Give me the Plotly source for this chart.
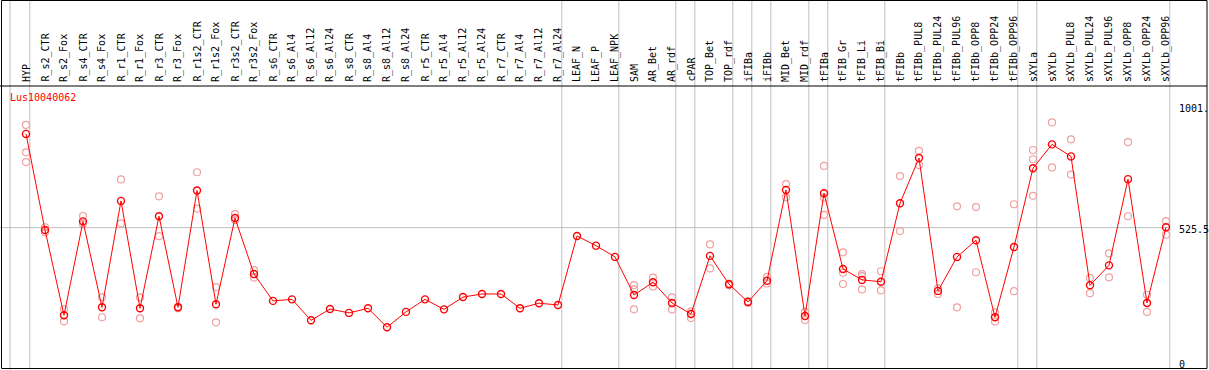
import plotly.graph_objects as go

W, H = 1209, 370

categories = ["HYP", "R_s2_CTR", "R_s2_Fox", "R_s4_CTR", "R_s4_Fox", "R_r1_CTR", "R_r1_Fox",
              "R_r3_CTR", "R_r3_Fox", "R_r1s2_CTR", "R_r1s2_Fox", "R_r3s2_CTR", "R_r3s2_Fox",
              "R_s6_CTR", "R_s6_Al4", "R_s6_Al12", "R_s6_Al24", "R_s8_CTR", "R_s8_Al4", "R_s8_Al12",
              "R_s8_Al24", "R_r5_CTR", "R_r5_Al4", "R_r5_Al12", "R_r5_Al24", "R_r7_CTR", "R_r7_Al4",
              "R_r7_Al12", "R_r7_Al24", "LEAF_N", "LEAF_P", "LEAF_NPK", "SAM", "AR_Bet", "AR_rdf",
              "cPAR", "TOP_Bet", "TOP_rdf", "iFIBa", "iFIBb", "MID_Bet", "MID_rdf", "tFIBa",
              "tFIB_Gr", "tFIB_Li", "tFIB_Bi", "tFIBb", "tFIBb_PUL8", "tFIBb_PUL24", "tFIBb_PUL96",
              "tFIBb_OPP8", "tFIBb_OPP24", "tFIBb_OPP96", "sXYLa", "sXYLb", "sXYLb_PUL8",
              "sXYLb_PUL24", "sXYLb_PUL96", "sXYLb_OPP8", "sXYLb_OPP24", "sXYLb_OPP96"]

mean_values = [892, 516, 183, 550, 214, 630, 210, 570, 214, 671, 226, 563, 344,
               239, 245, 163, 207, 192, 210, 136, 196, 245, 206, 254, 266, 266, 210, 230, 223,
               493, 455, 411, 262, 312, 231, 188, 415, 304, 235, 318, 673, 180, 660,
               364, 321, 314, 621, 798, 278, 411, 476, 175, 450, 758, 851, 804,
               300, 378, 715, 231, 527]

replicates = [[927, 820, 782], [527, 507], [206, 159], [571, 540], [253, 175], [714, 542],
              [253, 171], [648, 492], [216, 210], [742, 600], [293, 155], [578, 555], [359, 330],
              [], [], [], [], [], [], [], [], [], [], [], [], [], [], [], [],
              [], [], [], [301, 284, 206], [330, 295], [253, 205], [198, 172], [460, 366],
              [307, 300], [238, 231], [333, 307], [696, 644], [196, 164], [767, 642, 575],
              [429, 349, 305], [344, 336, 284], [355, 280], [727, 512], [826, 770], [288, 266],
              [609, 214], [606, 351], [194, 158], [617, 277], [829, 793, 650], [937, 761],
              [871, 733], [329, 269], [425, 331], [860, 570], [263, 196], [551, 498]]

group_ends = ["HYP", "R_r7_Al24", "LEAF_NPK", "AR_rdf", "cPAR", "TOP_rdf", "iFIBa", "iFIBb",
              "MID_rdf", "tFIBa", "tFIB_Bi", "tFIBb_OPP96", "sXYLa", "sXYLb_OPP96"]

gene = "Lus10040062"
y_ticks = [1001, 525.5, 0]
y_tick_text = ["1001.", "525.5", "0"]

# pixel geometry
x0_px, dx_px = 26, 19
y0_px, ky = 362, 0.2557
x_range = [-x0_px / dx_px, (W - x0_px) / dx_px]
y_range = [-(H - y0_px) / ky, y0_px / ky]

def py(p):  # pixel y -> paper
    return 1 - p / H

idx = list(range(len(categories)))
fig = go.Figure()

rx, ry = [], []
for i, vals in enumerate(replicates):
    for v in vals:
        rx.append(i)
        ry.append(v)
fig.add_trace(go.Scatter(x=rx, y=ry, mode="markers",
                         marker=dict(symbol="circle-open", size=7, color="#f0a0a0",
                                     line=dict(width=1.2, color="#f0a0a0")),
                         hoverinfo="skip", showlegend=False))
fig.add_trace(go.Scatter(x=idx, y=mean_values, mode="lines+markers",
                         line=dict(color="#ff0000", width=1),
                         marker=dict(symbol="circle-open", size=7, color="#ff0000",
                                     line=dict(width=1.4, color="#ff0000")),
                         showlegend=False))

shapes = []
grid = "#c0c0c0"
# left start line
shapes.append(dict(type="line", xref="x", yref="paper", x0=-16 / dx_px, x1=-16 / dx_px,
                   y0=0, y1=1, line=dict(color=grid, width=1), layer="below"))
for name in group_ends:
    gx = categories.index(name) + 0.2
    shapes.append(dict(type="line", xref="x", yref="paper", x0=gx, x1=gx, y0=py(368), y1=1,
                       line=dict(color=grid, width=1), layer="below"))
# horizontal mid line
last = categories.index(group_ends[-1]) + 0.2
shapes.append(dict(type="line", xref="x", yref="y", x0=x_range[0], x1=last,
                   y0=y_ticks[1], y1=y_ticks[1], line=dict(color=grid, width=1), layer="below"))
# header separator
shapes.append(dict(type="line", xref="paper", yref="paper", x0=0, x1=1207 / W, y0=py(86), y1=py(86),
                   line=dict(color="black", width=1)))
# border
shapes.append(dict(type="rect", xref="paper", yref="paper", x0=1.5 / W, x1=1207 / W,
                   y0=py(368.5), y1=py(0.5), line=dict(color="black", width=1)))

annotations = []
font = dict(family="DejaVu Sans Mono", size=10, color="black")
for i, name in enumerate(categories):
    annotations.append(dict(x=i, y=py(83), xref="x", yref="paper", text=name, textangle=-90,
                            showarrow=False, xanchor="center", yanchor="bottom", font=font,
                            borderpad=0))
annotations.append(dict(x=8 / W, y=py(97), xref="paper", yref="paper", text=gene, showarrow=False,
                        xanchor="left", yanchor="middle",
                        font=dict(family="DejaVu Sans Mono", size=10, color="#ff0000")))
for v, t in zip(y_ticks, y_tick_text):
    annotations.append(dict(x=1177 / W, y=v, xref="paper", yref="y", text=t, showarrow=False,
                            xanchor="left", yanchor="middle", font=font, yshift=-2))

fig.update_layout(width=W, height=H, margin=dict(l=0, r=0, t=0, b=0),
                  paper_bgcolor="white", plot_bgcolor="white",
                  xaxis=dict(range=x_range, visible=False, showgrid=False, zeroline=False),
                  yaxis=dict(range=y_range, visible=False, showgrid=False, zeroline=False),
                  shapes=shapes, annotations=annotations)

fig.write_html("out.html", config={"displayModeBar": False},
               post_script="document.body.style.margin='0';document.body.style.padding='0';document.body.style.overflow='hidden';")
